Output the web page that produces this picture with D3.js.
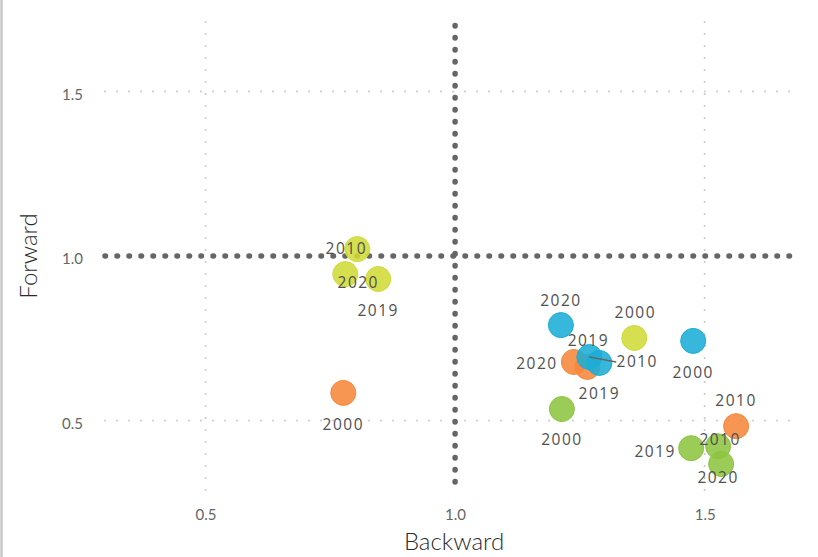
<!DOCTYPE html>
<html>
<head>
<meta charset="utf-8">
<script src="https://cdn.jsdelivr.net/npm/d3@7"></script>
<style>
  html, body { margin: 0; padding: 0; background: #fff; }
  svg { display: block; }
</style>
</head>
<body>
<svg id="chart" width="818" height="557"></svg>
<script>
// ---- data ----
const groups = ["yellow", "orange", "blue", "green"];
const years  = ["2000", "2010", "2019", "2020"];
// Backward (x) values per group, in year order
const backward = {
  yellow: [1.359, 0.804, 0.846, 0.780],
  orange: [0.776, 1.563, 1.265, 1.238],
  blue:   [1.477, 1.269, 1.289, 1.212],
  green:  [1.214, 1.527, 1.473, 1.533]
};
// Forward (y) values per group, in year order
const forward = {
  yellow: [0.751, 1.021, 0.930, 0.945],
  orange: [0.584, 0.483, 0.663, 0.678],
  blue:   [0.742, 0.693, 0.675, 0.790],
  green:  [0.535, 0.422, 0.416, 0.368]
};
// repelled label anchor positions (data units)
const labelBackward = {
  yellow: [1.361, 0.782, 0.846, 0.806],
  orange: [0.776, 1.563, 1.289, 1.164],
  blue:   [1.477, 1.365, 1.267, 1.212],
  green:  [1.214, 1.531, 1.401, 1.527]
};
const labelForward = {
  yellow: [0.830, 1.024, 0.836, 0.921],
  orange: [0.489, 0.562, 0.581, 0.675],
  blue:   [0.647, 0.681, 0.742, 0.866],
  green:  [0.444, 0.444, 0.407, 0.328]
};
const segmentLabels = ["blue 2010"];
const xTicks = [0.5, 1.0, 1.5];
const yTicks = [0.5, 1.0, 1.5];
const xDomain = [0.2986, 1.675];
const yDomain = [0.289, 1.717];
const refX = 1.0, refY = 1.0;

const colors = { yellow: "#cfdb38", orange: "#f6873a", blue: "#1badd6", green: "#8cc540" };

// ---- build ----
const svg = d3.select("#chart");
const x = d3.scaleLinear().domain(xDomain).range([105, 792]);
const y = d3.scaleLinear().domain(yDomain).range([490, 20]);

// left border
svg.append("line").attr("x1", 1.5).attr("x2", 1.5).attr("y1", 0).attr("y2", 557)
  .attr("stroke", "#c9c9c9").attr("stroke-width", 2.5);

// grid
const g = svg.append("g");
g.selectAll(".gx").data(xTicks.filter(t => t !== refX)).join("line")
  .attr("x1", d => x(d)).attr("x2", d => x(d))
  .attr("y1", y.range()[0]).attr("y2", y.range()[1])
  .attr("stroke", "#c8c8c8").attr("stroke-width", 2)
  .attr("stroke-linecap", "round").attr("stroke-dasharray", "0 12");
g.selectAll(".gy").data(yTicks.filter(t => t !== refY)).join("line")
  .attr("y1", d => y(d)).attr("y2", d => y(d))
  .attr("x1", x.range()[0]).attr("x2", x.range()[1])
  .attr("stroke", "#c8c8c8").attr("stroke-width", 2)
  .attr("stroke-linecap", "round").attr("stroke-dasharray", "0 12");

// reference lines
g.append("line").attr("x1", x.range()[0]).attr("x2", x.range()[1])
  .attr("y1", y(refY)).attr("y2", y(refY))
  .attr("stroke", "#666").attr("stroke-width", 5.5)
  .attr("stroke-linecap", "round").attr("stroke-dasharray", "0.5 11.5");
g.append("line").attr("x1", x(refX)).attr("x2", x(refX))
  .attr("y1", y.range()[0] - 8).attr("y2", y.range()[1] + 2)
  .attr("stroke", "#666").attr("stroke-width", 5.5)
  .attr("stroke-linecap", "round").attr("stroke-dasharray", "0.5 11.5");

// axes
const xAxis = d3.axisBottom(x).tickValues(xTicks).tickFormat(d3.format(".1f")).tickSize(0).tickPadding(0);
const yAxis = d3.axisLeft(y).tickValues(yTicks).tickFormat(d3.format(".1f")).tickSize(0).tickPadding(0);
const xa = svg.append("g").attr("transform", "translate(0,509)").call(xAxis);
const ya = svg.append("g").attr("transform", "translate(83,3)").call(yAxis);
[xa, ya].forEach(a => {
  a.select(".domain").remove();
  a.selectAll("text").attr("font-family", "Lato, sans-serif").attr("font-size", 15)
    .attr("fill", "#666").attr("font-weight", 400);
});

svg.append("text").attr("x", 454).attr("y", 550).attr("text-anchor", "middle")
  .attr("font-family", "Lato, sans-serif").attr("font-size", 24).attr("font-weight", 300)
  .attr("fill", "#2b2b2b").text("Backward");
svg.append("text").attr("transform", "translate(37,256) rotate(-90)").attr("text-anchor", "middle")
  .attr("font-family", "Lato, sans-serif").attr("font-size", 24).attr("font-weight", 300)
  .attr("fill", "#2b2b2b").text("Forward");

// points
const pts = [];
groups.forEach(gr => years.forEach((yr, i) => pts.push({
  group: gr, year: yr, bx: backward[gr][i], fy: forward[gr][i],
  lx: labelBackward[gr][i], ly: labelForward[gr][i]
})));

svg.append("g").selectAll("circle").data(pts).join("circle")
  .attr("cx", d => x(d.bx)).attr("cy", d => y(d.fy)).attr("r", 12.5)
  .attr("fill", d => colors[d.group]).attr("fill-opacity", 0.88)
  .attr("stroke", d => colors[d.group]).attr("stroke-width", 1);

// segments
const segs = pts.filter(d => segmentLabels.includes(d.group + " " + d.year));
svg.append("g").selectAll("line").data(segs).join("line")
  .attr("x1", d => x(d.bx)).attr("y1", d => y(d.fy))
  .attr("x2", d => x(d.lx) - 21).attr("y2", d => y(d.ly) + 1)
  .attr("stroke", "#666").attr("stroke-width", 1.6);

// labels
svg.append("g").selectAll("text").data(pts).join("text")
  .attr("x", d => x(d.lx)).attr("y", d => y(d.ly)).attr("dy", "0.36em")
  .attr("text-anchor", "middle")
  .attr("font-family", "'Open Sans', sans-serif").attr("font-size", 15.5).attr("font-weight", 400)
  .attr("letter-spacing", 1.5)
  .attr("fill", "#505050").text(d => d.year);
</script>
</body>
</html>
